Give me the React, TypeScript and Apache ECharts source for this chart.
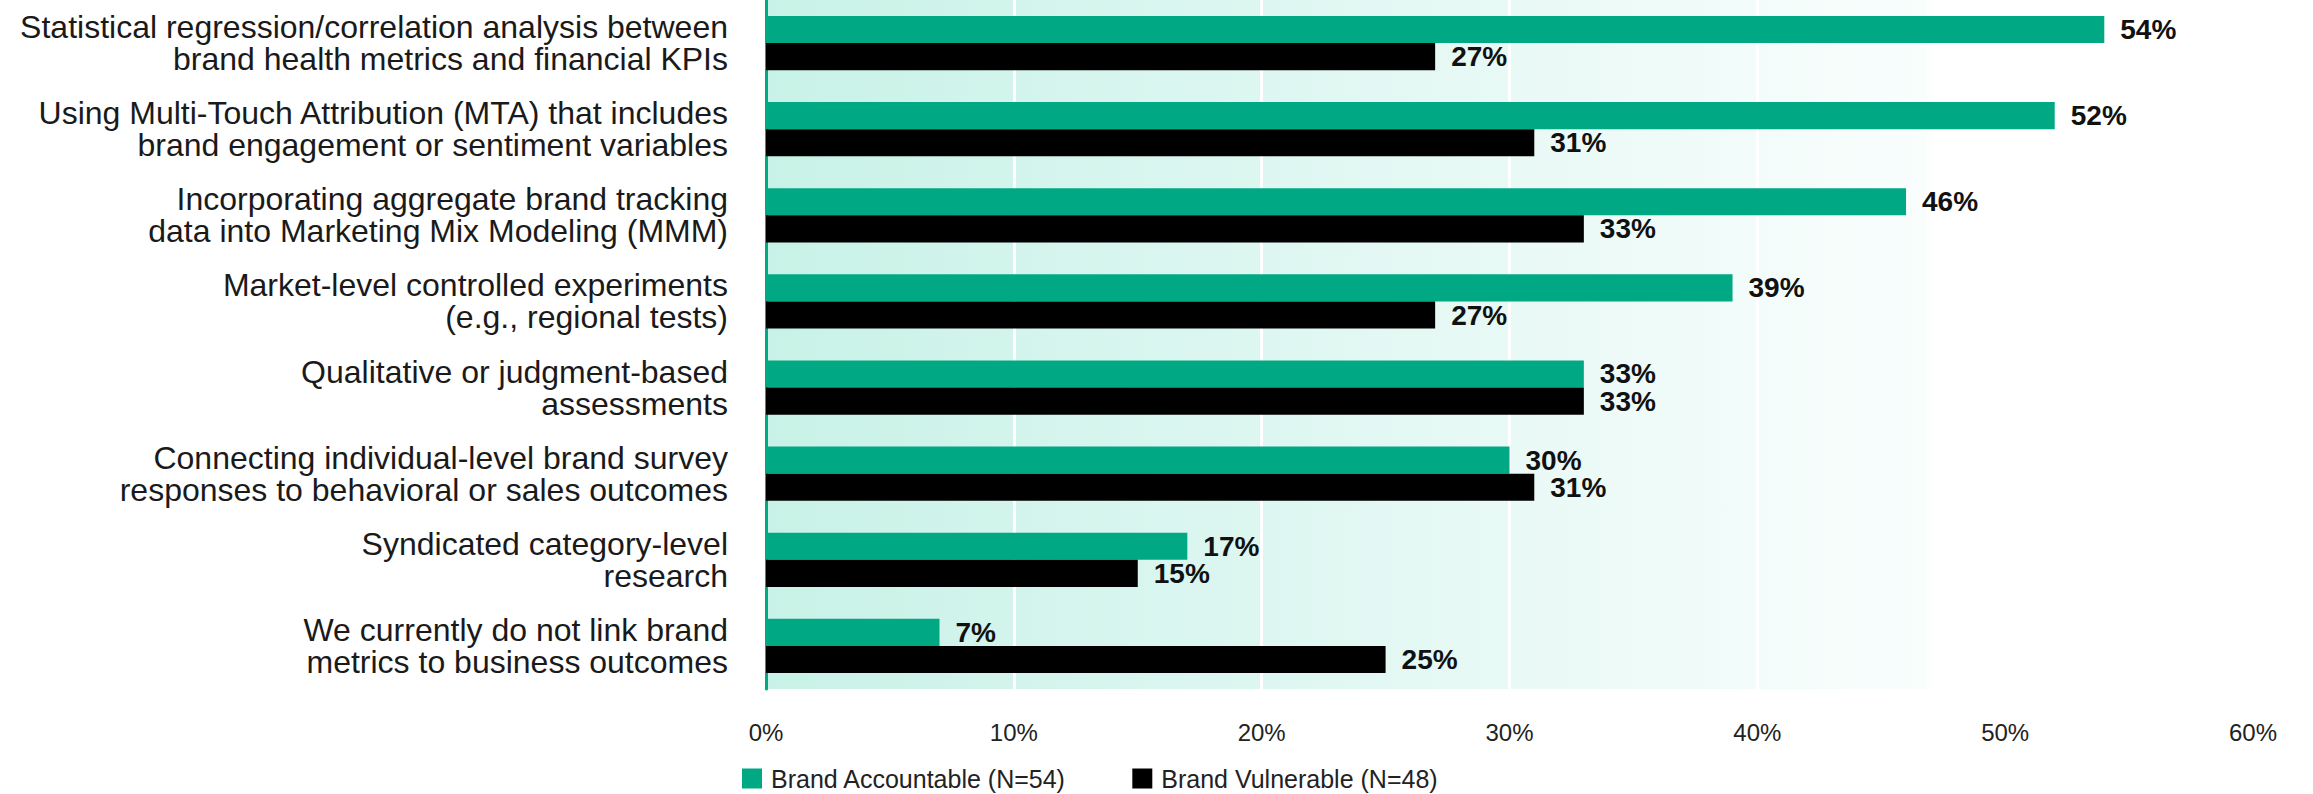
import React, { useEffect, useRef } from "react";
import * as echarts from "echarts";

const categories: string[] = [
  "Statistical regression/correlation analysis between\nbrand health metrics and financial KPIs",
  "Using Multi-Touch Attribution (MTA) that includes\nbrand engagement or sentiment variables",
  "Incorporating aggregate brand tracking\ndata into Marketing Mix Modeling (MMM)",
  "Market-level controlled experiments\n(e.g., regional tests)",
  "Qualitative or judgment-based\nassessments",
  "Connecting individual-level brand survey\nresponses to behavioral or sales outcomes",
  "Syndicated category-level\nresearch",
  "We currently do not link brand\nmetrics to business outcomes",
];

const accountable: number[] = [54, 52, 46, 39, 33, 30, 17, 7];
const vulnerable: number[] = [27, 31, 33, 27, 33, 31, 15, 25];

const seriesNames: string[] = ["Brand Accountable (N=54)", "Brand Vulnerable (N=48)"];

const GREEN = "#00a984";
const FONT = '"Liberation Sans", Arial, sans-serif';

export default function App() {
  const ref = useRef<HTMLDivElement>(null);

  useEffect(() => {
    document.body.style.margin = "0";
    if (!ref.current) return;
    const chart = echarts.init(ref.current, undefined, { renderer: "svg" });
    const labelStyle = {
      show: true,
      position: "right",
      distance: 16,
      formatter: "{c}%",
      fontFamily: FONT,
      fontWeight: "bold",
      fontSize: 28,
      lineHeight: 26,
      color: "#111111",
    };
    chart.setOption({
      animation: false,
      backgroundColor: "#ffffff",
      grid: {
        left: 766,
        right: 60,
        top: 0,
        bottom: 105,
        show: true,
        borderWidth: 0,
        backgroundColor: new echarts.graphic.LinearGradient(0, 0, 1, 0, [
          { offset: 0, color: "#c8f2e7" },
          { offset: 0.3, color: "#dbf6f0" },
          { offset: 0.55, color: "#ecfaf7" },
          { offset: 0.78, color: "#f9fefd" },
          { offset: 0.785, color: "#ffffff" },
          { offset: 1, color: "#ffffff" },
        ]),
      },
      legend: {
        data: seriesNames,
        left: 737,
        top: 761,
        padding: [5, 5, 2, 5],
        icon: "rect",
        itemWidth: 20,
        itemHeight: 20,
        itemGap: 66,
        textStyle: {
          fontFamily: FONT,
          fontSize: 25,
          lineHeight: 24,
          color: "#222222",
          padding: [0, 0, 0, 4],
        },
      },
      xAxis: {
        type: "value",
        min: 0,
        max: 60,
        interval: 10,
        axisLine: { show: false },
        axisTick: { show: false },
        splitLine: { show: true, lineStyle: { color: "#ffffff", width: 3 } },
        axisLabel: {
          formatter: "{value}%",
          margin: 31,
          fontFamily: FONT,
          fontSize: 24,
          color: "#222222",
        },
      },
      yAxis: {
        type: "category",
        inverse: true,
        data: categories,
        axisLine: { show: true, lineStyle: { color: GREEN, width: 3 } },
        axisTick: { show: false },
        axisLabel: {
          margin: 38,
          fontFamily: FONT,
          fontSize: 32,
          lineHeight: 32,
          color: "#1a1a1a",
          align: "right",
        },
      },
      series: [
        {
          name: seriesNames[0],
          type: "bar",
          data: accountable,
          itemStyle: { color: GREEN },
          barGap: "0%",
          barCategoryGap: "37%",
          label: labelStyle,
        },
        {
          name: seriesNames[1],
          type: "bar",
          data: vulnerable,
          itemStyle: { color: "#000000" },
          barGap: "0%",
          barCategoryGap: "37%",
          label: labelStyle,
        },
      ],
    });
    return () => chart.dispose();
  }, []);

  return <div ref={ref} style={{ width: 2313, height: 794 }} />;
}
